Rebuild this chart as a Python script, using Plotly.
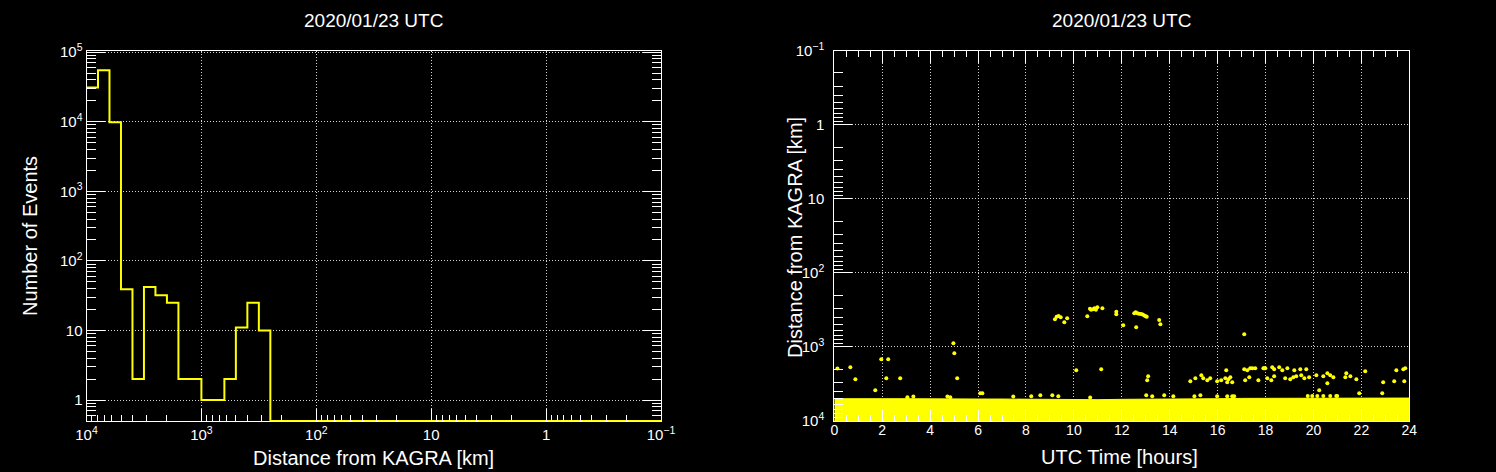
import math
import plotly.graph_objects as go

FONT = "Liberation Sans, Arial, Helvetica, sans-serif"
TITLE = "2020/01/23 UTC"

# ---------------- Left panel: histogram of distance ----------------
# log10 bins, 0.1 decade wide, from 10^4 km down to 10^-1 km
HIST_LOG_START = 4.0
HIST_LOG_STOP = -1.0
HIST_NBINS = 50
hist_counts = [31000, 55000, 9800, 39, 2, 42, 32, 25, 2, 2,
               1, 1, 2, 11, 25, 10] + [0] * 34
HIST_Y_MIN = 0.5
HIST_Y_MAX = 1.05e5

left_x_tickvals = [1e4, 1e3, 1e2, 10, 1, 0.1]
left_x_ticktext = ["10<sup>4</sup>", "10<sup>3</sup>", "10<sup>2</sup>", "10", "1", "10<sup>\u22121</sup>"]
left_y_tickvals = [1, 10, 100, 1e3, 1e4, 1e5]
left_y_ticktext = ["1", "10", "10<sup>2</sup>", "10<sup>3</sup>", "10<sup>4</sup>", "10<sup>5</sup>"]

# ---------------- Right panel: distance vs UTC time ----------------
# dense band of events reaching the 10^4 km axis edge (upper envelope read per hour)
band_hours = [0, 1, 2, 3, 4, 5, 6, 7, 8, 9, 10, 11, 12, 13, 14, 15, 16, 17, 18, 19, 20, 21, 22, 23, 24]
band_top_km = [5000, 4950, 5000, 5000, 5050, 5000, 5050, 5050, 5100, 5100, 5100, 5150, 5100, 5100, 5050,
               5050, 5000, 4950, 4950, 4900, 4900, 4950, 4950, 4900, 4900]
BAND_FLOOR_KM = 10000

# individual events outside the dense band
event_hours = [
    0.13, 0.67, 0.88, 1.71, 1.96, 2.25, 2.17, 2.75, 3.05, 3.30, 4.97, 5.01, 5.13, 4.72, 4.84, 6.09, 6.18, 7.47,
    9.21, 9.28, 9.36, 9.45, 9.60, 9.72, 10.56, 10.67, 10.72, 10.80, 10.86, 10.92, 10.98, 11.19, 11.77, 11.77,
    12.06, 12.52, 12.58, 12.65, 12.72, 12.80, 12.87, 12.94, 13.00, 13.04, 12.60, 13.56, 13.61,
    10.10, 11.14, 13.10, 13.06,
    8.22, 8.60, 9.10, 9.35, 10.68, 13.02, 13.27, 13.77, 14.15, 15.03, 15.28,
    14.86, 15.07, 15.32, 15.40, 15.57, 15.69,
    17.11,
    16.36, 17.11, 17.24, 17.36, 17.45, 17.57, 17.91, 17.95, 17.99, 18.28, 18.36, 18.57, 18.70, 18.91, 19.20,
    19.45, 19.70, 23.46, 23.75, 23.83,
    15.98, 16.15, 16.32, 16.40, 16.45, 16.53, 16.61, 17.15, 17.32, 17.70, 18.07, 18.24, 18.36, 18.82, 19.03,
    19.16, 19.28, 19.49, 19.62, 19.82, 20.12, 20.41, 20.58, 20.70, 20.83, 21.37, 21.33, 21.54, 21.79, 22.16,
    22.91, 23.37, 23.79,
    20.24, 20.58, 21.91, 22.87,
    15.98, 16.40, 16.61, 16.69, 19.76, 19.95, 20.16, 20.41, 20.70, 20.95, 20.99,
]
event_km = [
    1950, 1880, 2740, 3850, 1470, 1470, 2640, 2640, 4790, 4680, 893, 1220, 2640, 4680, 4790, 4230, 4230, 4680,
    424, 391, 382, 398, 465, 410, 385, 305, 315, 310, 300, 315, 292, 300, 334, 363,
    511, 352, 340, 350, 355, 360, 365, 375, 385, 390, 543, 432, 494,
    2070, 2005, 2495, 2820,
    4645, 4500, 4500, 4645, 4800, 4500, 4645, 4500, 4645, 4645, 4500,
    2910, 2650, 2415, 2650, 2820, 2650,
    675,
    2068, 2004, 2068, 1941, 1941, 1941, 1941, 1941, 1941, 1883, 2004, 1883, 2068, 1941, 2068,
    2004, 2004, 2068, 2004, 1941,
    2911, 2818, 2649, 2999, 2735, 2570, 2999, 2818, 2570, 2818, 2649, 2818, 2489, 2649, 2735,
    2570, 2489, 2415, 2649, 2570, 2415, 2489, 2270, 2415, 2570, 2270, 2570, 2489, 2735, 2133,
    2999, 2911, 2911,
    3855, 3097, 4227, 4227,
    4645, 4645, 4645, 4645, 4600, 4600, 4600, 4600, 4600, 4600, 4600,
]

right_y_tickvals = [0.1, 1, 10, 100, 1e3, 1e4]
right_y_ticktext = ["10<sup>\u22121</sup>", "1", "10", "10<sup>2</sup>", "10<sup>3</sup>", "10<sup>4</sup>"]

# ---------------- build figure ----------------
W, H = 1496, 472
YELLOW = "#ffff00"
GRID = "rgba(235,235,235,0.9)"

bin_w = (HIST_LOG_START - HIST_LOG_STOP) / HIST_NBINS
edges = [10 ** (HIST_LOG_START - i * bin_w) for i in range(HIST_NBINS + 1)]
shown = [max(c, HIST_Y_MIN) for c in hist_counts]
step_y = shown + [shown[-1]]

fig = go.Figure()
fig.add_trace(go.Scatter(x=edges, y=step_y, mode="lines",
                         line=dict(color=YELLOW, width=2, shape="hv"),
                         xaxis="x", yaxis="y", showlegend=False, hoverinfo="skip"))
fig.add_trace(go.Scatter(x=band_hours + band_hours[::-1],
                         y=band_top_km + [BAND_FLOOR_KM] * len(band_hours),
                         mode="lines", fill="toself", fillcolor=YELLOW,
                         line=dict(color=YELLOW, width=1),
                         xaxis="x2", yaxis="y2", showlegend=False, hoverinfo="skip"))
fig.add_trace(go.Scatter(x=event_hours, y=event_km, mode="markers",
                         marker=dict(color=YELLOW, size=4, line=dict(width=0)),
                         xaxis="x2", yaxis="y2", showlegend=False))


def minor_log(lo, hi):
    return [k * 10 ** n for n in range(lo, hi) for k in range(2, 10)]


common = dict(showline=True, linecolor="white", linewidth=1, ticks="inside", tickcolor="white",
              tickwidth=1, tickfont=dict(color="white", size=15, family=FONT),
              showgrid=True, gridcolor=GRID, griddash="1px,2px", gridwidth=1,
              zeroline=False, automargin=False)

L0, L1 = 86.5 / W, 661 / W
R0, R1 = 834.3 / W, 1409.3 / W
Y0, Y1 = 1 - 421 / H, 1 - 50.7 / H

fig.update_layout(
    width=W, height=H,
    margin=dict(l=0, r=0, t=0, b=0),
    paper_bgcolor="black", plot_bgcolor="black",
    font=dict(family=FONT, color="white"),
    showlegend=False,
    xaxis=dict(common, domain=[L0, L1], anchor="y", type="log",
               range=[HIST_LOG_START, HIST_LOG_STOP],
               tickmode="array", tickvals=left_x_tickvals, ticktext=left_x_ticktext,
               ticklen=12, mirror=True,
               minor=dict(tickmode="array", tickvals=minor_log(-1, 4), ticks="inside",
                          ticklen=6, tickcolor="white", showgrid=False)),
    yaxis=dict(common, domain=[Y0, Y1], anchor="x", type="log",
               range=[math.log10(HIST_Y_MIN), math.log10(HIST_Y_MAX)],
               tickmode="array", tickvals=left_y_tickvals, ticktext=left_y_ticktext,
               ticklen=18, mirror="ticks",
               minor=dict(tickmode="array", tickvals=minor_log(-1, 5), ticks="inside",
                          ticklen=9, tickcolor="white", showgrid=False)),
    xaxis2=dict(common, domain=[R0, R1], anchor="y2", range=[0, 24],
                tickmode="linear", tick0=0, dtick=2, ticklen=12, mirror="ticks",
                tickfont=dict(color="white", size=14, family=FONT), ticklabelstandoff=-4,
                minor=dict(dtick=0.5, ticks="inside", ticklen=6, tickcolor="white", showgrid=False)),
    yaxis2=dict(common, domain=[Y0, Y1], anchor="x2", type="log", range=[4, -1],
                tickmode="array", tickvals=right_y_tickvals, ticktext=right_y_ticktext,
                ticklen=18, mirror=True, ticklabelstandoff=6,
                minor=dict(tickmode="array", tickvals=minor_log(-1, 4), ticks="inside",
                           ticklen=9, tickcolor="white", showgrid=False)),
)

ann = [
    dict(text=TITLE, x=(L0 + L1) / 2, y=1 - 20 / H, font=dict(size=19)),
    dict(text=TITLE, x=(R0 + R1) / 2, y=1 - 20 / H, font=dict(size=19)),
    dict(text="Distance from KAGRA [km]", x=(L0 + L1) / 2, y=1 - 458 / H, font=dict(size=20)),
    dict(text="Number of Events", x=30 / W, y=1 - 236 / H, font=dict(size=20), textangle=-90),
    dict(text="UTC Time [hours]", x=1119 / W, y=1 - 457 / H, font=dict(size=20)),
    dict(text="Distance from KAGRA [km]", x=795 / W, y=1 - 237 / H, font=dict(size=20), textangle=-90),
]
for a in ann:
    a.update(xref="paper", yref="paper", showarrow=False, xanchor="center", yanchor="middle")
    a["font"].update(color="white", family=FONT)
fig.update_layout(annotations=ann)

PAGE_JS = ("document.body.style.margin='0';document.body.style.padding='0';"
           "document.body.style.background='black';document.body.style.overflow='hidden';")
fig.write_html("out.html", post_script=PAGE_JS, config={"displayModeBar": False})
